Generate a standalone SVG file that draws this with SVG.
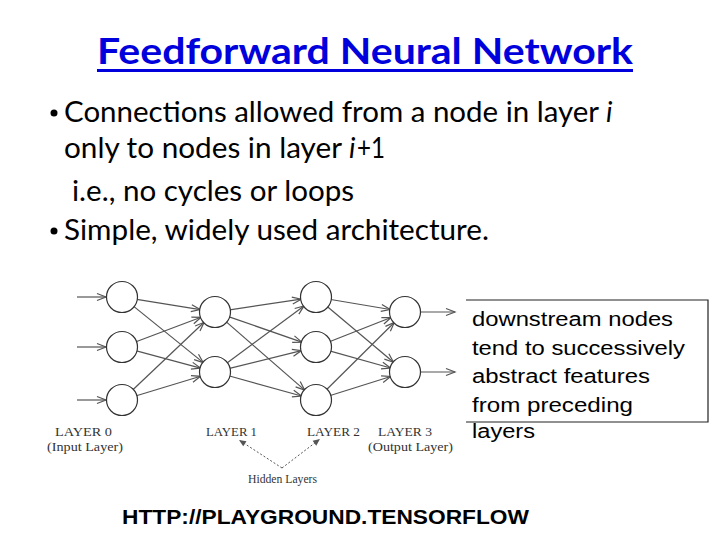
<svg xmlns="http://www.w3.org/2000/svg" width="720" height="540" viewBox="0 0 720 540">
<defs>
<style>
.title{font-family:Lato,"Open Sans","Liberation Sans",sans-serif;font-weight:bold;font-size:37px;fill:#0000dd}
.body{font-family:Lato,"Open Sans","Liberation Sans",sans-serif;font-size:28px;fill:#000}
.note{font-family:"Liberation Sans",Arial,sans-serif;font-size:20px;fill:#000}
.url{font-family:"Liberation Sans",Arial,sans-serif;font-size:20px;font-weight:bold;fill:#000}
.lab{font-family:"Liberation Serif","Times New Roman",serif;font-size:13px;fill:#333}
.node{fill:#fff;stroke:#333;stroke-width:1.2}
.edge{stroke:#555;stroke-width:1.2;fill:none;marker-end:url(#arr)}
.dot{stroke:#555;stroke-width:1;stroke-dasharray:2,2;fill:none;marker-end:url(#arr2)}
</style>
<marker id="arr" markerUnits="userSpaceOnUse" markerWidth="12" markerHeight="10" refX="9" refY="3.5" orient="auto" overflow="visible">
<path d="M0,0 L9,3.5 L0,7" fill="none" stroke="#555" stroke-width="1.2"/>
</marker>
<marker id="arr2" markerUnits="userSpaceOnUse" markerWidth="10" markerHeight="8" refX="7" refY="3" orient="auto" overflow="visible">
<path d="M0,0 L7,3 L0,6 Z" fill="#555"/>
</marker>
</defs>
<rect width="720" height="540" fill="#fff"/>

<g id="title">
<text class="title" x="97" y="64" textLength="536" lengthAdjust="spacingAndGlyphs">Feedforward Neural Network</text>
<rect x="97" y="69" width="536" height="3" fill="#0000dd"/>
</g>

<g id="bullets">
<circle cx="54" cy="113" r="3.5" fill="#000"/>
<text class="body" x="64" y="122" textLength="535" lengthAdjust="spacingAndGlyphs">Connections allowed from a node in layer</text>
<text class="body" x="606" y="122" font-style="italic">i</text>
<text class="body" x="64" y="158" textLength="278" lengthAdjust="spacingAndGlyphs">only to nodes in layer</text>
<text class="body" x="349" y="158" font-style="italic">i</text>
<text class="body" x="357" y="158" textLength="28" lengthAdjust="spacingAndGlyphs">+1</text>
<text class="body" x="72" y="201" textLength="282" lengthAdjust="spacingAndGlyphs">i.e., no cycles or loops</text>
<circle cx="54" cy="231" r="3.5" fill="#000"/>
<text class="body" x="64" y="240" textLength="425" lengthAdjust="spacingAndGlyphs">Simple, widely used architecture.</text>
</g>

<g id="connectors">
<line class="edge" x1="77" y1="297" x2="106" y2="297"/>
<line class="edge" x1="77" y1="347" x2="106" y2="347"/>
<line class="edge" x1="77" y1="400" x2="106" y2="400"/>
<line class="edge" x1="136.8" y1="299.4" x2="200.2" y2="309.6"/>
<line class="edge" x1="133.7" y1="306.4" x2="203.3" y2="362.6"/>
<line class="edge" x1="136.0" y1="341.7" x2="201.0" y2="317.3"/>
<line class="edge" x1="136.5" y1="350.9" x2="200.5" y2="368.1"/>
<line class="edge" x1="132.9" y1="389.7" x2="204.1" y2="322.3"/>
<line class="edge" x1="136.4" y1="395.7" x2="200.6" y2="376.3"/>
<line class="edge" x1="229.8" y1="309.8" x2="301.2" y2="299.2"/>
<line class="edge" x1="229.2" y1="316.9" x2="301.8" y2="342.1"/>
<line class="edge" x1="226.3" y1="321.9" x2="304.7" y2="390.1"/>
<line class="edge" x1="227.0" y1="363.1" x2="304.0" y2="305.9"/>
<line class="edge" x1="229.6" y1="368.4" x2="301.4" y2="350.6"/>
<line class="edge" x1="229.5" y1="376.0" x2="301.5" y2="396.0"/>
<line class="edge" x1="330.8" y1="299.5" x2="390.2" y2="309.5"/>
<line class="edge" x1="327.5" y1="306.7" x2="393.5" y2="362.3"/>
<line class="edge" x1="330.0" y1="341.5" x2="391.0" y2="317.5"/>
<line class="edge" x1="330.4" y1="351.1" x2="390.6" y2="368.0"/>
<line class="edge" x1="326.7" y1="389.5" x2="394.3" y2="322.5"/>
<line class="edge" x1="330.3" y1="395.5" x2="390.7" y2="376.5"/>
<line class="edge" x1="420" y1="312" x2="455" y2="312"/>
<line class="edge" x1="420" y1="372" x2="455" y2="372"/>
<line class="dot" x1="282" y1="468" x2="239" y2="440"/>
<line class="dot" x1="282" y1="468" x2="320" y2="439"/>
</g>

<g id="layer0">
<circle class="node" cx="122" cy="297" r="15.5"/>
<circle class="node" cx="122" cy="347" r="15.5"/>
<circle class="node" cx="122" cy="400" r="15.5"/>
<text class="lab" x="55" y="436" textLength="57" lengthAdjust="spacingAndGlyphs">LAYER 0</text>
<text class="lab" x="47" y="451" textLength="76" lengthAdjust="spacingAndGlyphs">(Input Layer)</text>
</g>
<g id="layer1">
<circle class="node" cx="215" cy="312" r="15.5"/>
<circle class="node" cx="215" cy="372" r="15.5"/>
<text class="lab" x="206" y="436" textLength="51" lengthAdjust="spacingAndGlyphs">LAYER 1</text>
</g>
<g id="layer2">
<circle class="node" cx="316" cy="297" r="15.5"/>
<circle class="node" cx="316" cy="347" r="15.5"/>
<circle class="node" cx="316" cy="400" r="15.5"/>
<text class="lab" x="307" y="436" textLength="53" lengthAdjust="spacingAndGlyphs">LAYER 2</text>
</g>
<g id="layer3">
<circle class="node" cx="405" cy="312" r="15.5"/>
<circle class="node" cx="405" cy="372" r="15.5"/>
<text class="lab" x="378" y="436" textLength="54" lengthAdjust="spacingAndGlyphs">LAYER 3</text>
<text class="lab" x="368" y="451" textLength="85" lengthAdjust="spacingAndGlyphs">(Output Layer)</text>
</g>
<g id="hidden">
<text class="lab" x="248" y="483" textLength="69" lengthAdjust="spacingAndGlyphs">Hidden Layers</text>
</g>

<g id="note">
<path d="M466,300 H708 V422 H466" fill="none" stroke="#222" stroke-width="1.2"/>
<text class="note" x="472" y="326" textLength="201" lengthAdjust="spacingAndGlyphs">downstream nodes</text>
<text class="note" x="472" y="355" textLength="213" lengthAdjust="spacingAndGlyphs">tend to successively</text>
<text class="note" x="472" y="383" textLength="178" lengthAdjust="spacingAndGlyphs">abstract features</text>
<text class="note" x="472" y="412" textLength="161" lengthAdjust="spacingAndGlyphs">from preceding</text>
<text class="note" x="472" y="438" textLength="63" lengthAdjust="spacingAndGlyphs">layers</text>
</g>

<g id="url">
<text class="url" x="122" y="524" textLength="407" lengthAdjust="spacingAndGlyphs">HTTP://PLAYGROUND.TENSORFLOW</text>
</g>
</svg>
